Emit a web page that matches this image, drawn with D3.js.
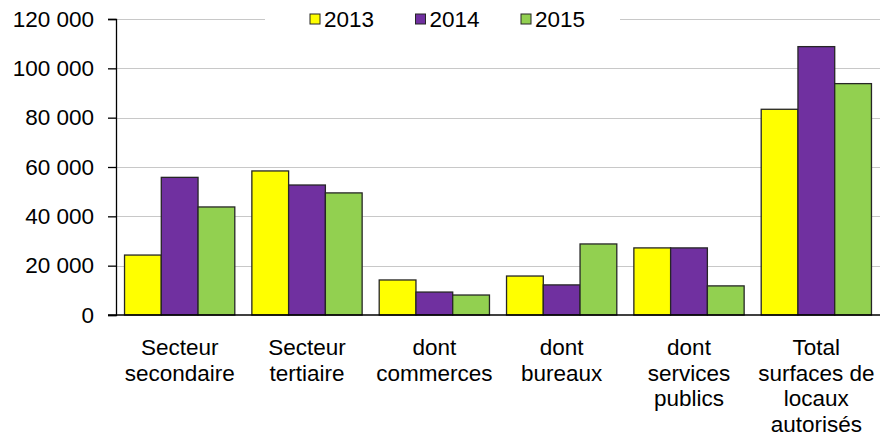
<!DOCTYPE html>
<html>
<head>
<meta charset="utf-8">
<script src="https://cdn.jsdelivr.net/npm/d3@7"></script>
<style>
  body { margin: 0; background: #fff; }
  text { font-family: "Liberation Sans", Arial, sans-serif; fill: #000; }
</style>
</head>
<body>
<div id="chart"></div>
<script>
const categories = [
  ["Secteur", "secondaire"],
  ["Secteur", "tertiaire"],
  ["dont", "commerces"],
  ["dont", "bureaux"],
  ["dont", "services", "publics"],
  ["Total", "surfaces de", "locaux", "autorisés"]
];
const years = ["2013", "2014", "2015"];
const values2013 = [24300, 58400, 14200, 15800, 27200, 83400];
const values2014 = [55800, 52700, 9300, 12200, 27200, 108800];
const values2015 = [43800, 49500, 8100, 28800, 11800, 93800];
const colors = ["#ffff00", "#7030a0", "#92d050"];
const yTicks = [0, 20000, 40000, 60000, 80000, 100000, 120000];

const width = 881;
const height = 435;
const margin = {left: 116, right: 1, top: 19, bottom: 120};
const fontSize = "22.5px";

const series = [values2013, values2014, values2015];

const svg = d3.select("#chart").append("svg")
    .attr("width", width)
    .attr("height", height);

const x0 = d3.scaleBand()
    .domain(d3.range(categories.length))
    .range([margin.left, width - margin.right])
    .paddingInner(0.134)
    .paddingOuter(0.067);

const x1 = d3.scaleBand()
    .domain(years)
    .range([0, x0.bandwidth()]);

const y = d3.scaleLinear()
    .domain([0, 120000])
    .range([height - margin.bottom, margin.top]);

const fmt = v => d3.format(",")(v).replace(/,/g, " ");

// gridlines
svg.append("g")
    .selectAll("line")
    .data(yTicks.slice(1))
    .enter()
    .append("line")
    .attr("x1", margin.left)
    .attr("x2", 880)
    .attr("y1", d => Math.round(y(d)) + 0.5)
    .attr("y2", d => Math.round(y(d)) + 0.5)
    .attr("stroke", "#c8c8c8")
    .attr("stroke-width", 1.2);

// legend background hides the top gridline
const legendG = svg.append("g");
legendG.append("rect")
    .attr("x", 265).attr("y", 5)
    .attr("width", 355).attr("height", 28)
    .attr("fill", "#fff");

// bars
const groups = svg.append("g")
    .selectAll("g")
    .data(categories)
    .enter()
    .append("g")
    .attr("transform", (d, i) => `translate(${x0(i)},0)`);

groups.selectAll("rect")
    .data((d, i) => years.map((yr, j) => ({yr: yr, j: j, v: series[j][i]})))
    .enter()
    .append("rect")
    .attr("x", d => x1(d.yr))
    .attr("y", d => y(d.v))
    .attr("width", x1.bandwidth())
    .attr("height", d => y(0) - y(d.v))
    .attr("fill", d => colors[d.j])
    .attr("stroke", "#262626")
    .attr("stroke-width", 1.3);

// y axis
const yAxis = svg.append("g")
    .attr("transform", `translate(${margin.left},0)`)
    .call(d3.axisLeft(y).tickValues(yTicks).tickFormat(fmt).tickSize(8).tickPadding(14));
yAxis.select(".domain").attr("stroke", "#000").attr("stroke-width", 1.3);
yAxis.selectAll(".tick line").attr("stroke", "#000").attr("stroke-width", 1.3);
yAxis.selectAll("text")
    .attr("font-size", fontSize)
    .attr("font-family", "'Liberation Sans', Arial, sans-serif")
    .attr("fill", "#000");

// x axis line
svg.append("line")
    .attr("x1", 108)
    .attr("x2", 880)
    .attr("y1", y(0))
    .attr("y2", y(0))
    .attr("stroke", "#000")
    .attr("stroke-width", 1.5);

// category labels
const labels = svg.append("g")
    .selectAll("text")
    .data(categories)
    .enter()
    .append("text")
    .attr("text-anchor", "middle")
    .attr("font-size", fontSize)
    .attr("x", (d, i) => x0(i) + x0.bandwidth() / 2)
    .attr("y", 355);

labels.selectAll("tspan")
    .data(d => d)
    .enter()
    .append("tspan")
    .attr("x", function() { return this.parentNode.getAttribute("x"); })
    .attr("dy", (d, i) => i === 0 ? 0 : 25.5)
    .text(d => d);

// legend
const legendItems = legendG.selectAll("g.item")
    .data(years)
    .enter()
    .append("g")
    .attr("class", "item")
    .attr("transform", (d, i) => `translate(${310 + i * 105.5},14)`);

legendItems.append("rect")
    .attr("width", 10)
    .attr("height", 10)
    .attr("fill", (d, i) => colors[i])
    .attr("stroke", "#262626")
    .attr("stroke-width", 1);

legendItems.append("text")
    .attr("x", 14)
    .attr("y", 13)
    .attr("font-size", fontSize)
    .text(d => d);
</script>
</body>
</html>
